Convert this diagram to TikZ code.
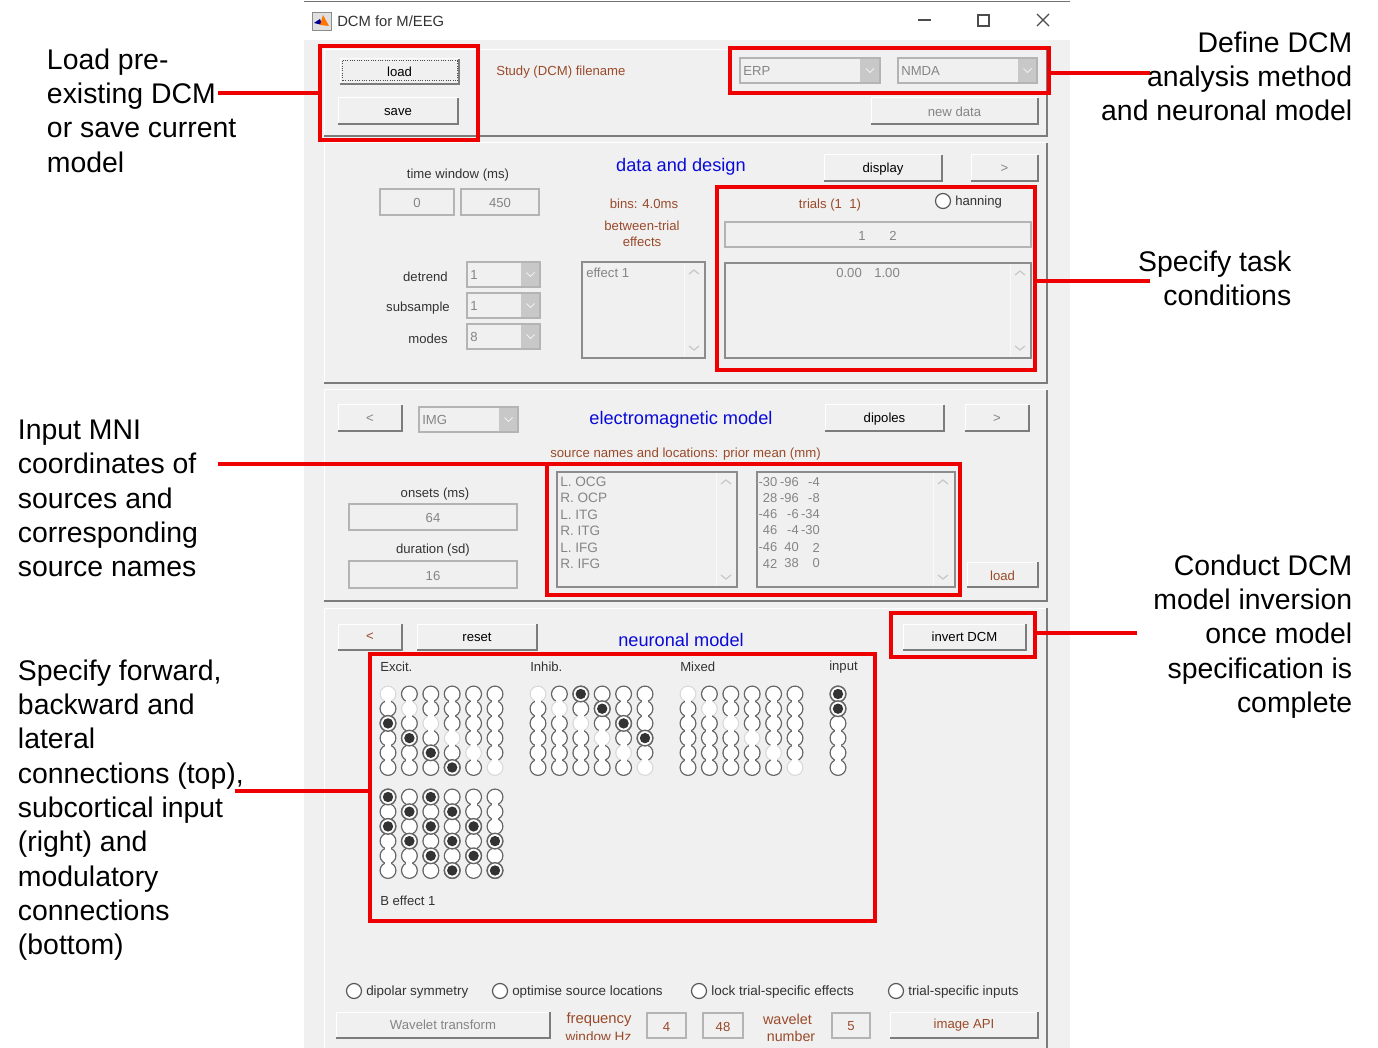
\documentclass[tikz,border=0pt]{standalone}
\usepackage{fontspec}
\setmainfont{Liberation Sans}
\usetikzlibrary{calc}
\definecolor{uibg}{HTML}{F0F0F0}
\definecolor{uidark}{HTML}{333333}
\definecolor{uigray}{HTML}{858585}
\definecolor{uibrown}{HTML}{9A4A2A}
\definecolor{uiblue}{HTML}{0A0AD8}
\definecolor{uiedge}{HTML}{7C7C7C}
\definecolor{uibox}{HTML}{B4B4B4}
\definecolor{uilistedge}{HTML}{8C8C8C}
\definecolor{uiarrow}{HTML}{C8C8C8}
\definecolor{calloutred}{HTML}{EE0000}
\tikzset{
  px/.style={line width=#1*0.75pt},
  ui/.style={inner sep=0pt,yshift=-0.75pt,font=\fontsize{9.85}{11.6}\selectfont,text=uidark},
  uiwide/.style={ui,font=\fontsize{10.05}{11.6}\selectfont},
  uititle/.style={inner sep=0pt,yshift=-0.75pt,font=\fontsize{13.65}{16}\selectfont,text=uiblue},
  callout/.style={inner sep=0pt,font=\fontsize{21.3}{25.75}\selectfont,text=black},
  redbox/.style={draw=calloutred,px=4,fill=none},
  redline/.style={draw=calloutred,px=4},
  edgedark/.style={draw=uiedge,px=1.6},
  edgelight/.style={draw=white,px=1},
  chev/.style={draw=uiarrow,px=1.2},
  raised/.style={every node/.append style={yshift=0.75pt}},
}
\newcommand\uipanel[4]{%
  \draw[edgelight] (#1,#4)--(#1,#2)--(#3,#2);
  \draw[edgedark] (#1,#4)--(#3,#4)--(#3,#2);}
\newcommand\uibtn[7]{%
  \fill[uibg] (#2,#3) rectangle (#4,#5);
  \draw[edgelight] (#2,#5)--(#2,#3)--(#4,#3);
  \draw[edgedark] (#2,#5)--(#4,#5)--(#4,#3);
  \node[ui,text=#7] (#1) at ($(#2,#3)!.5!(#4,#5)$) {#6};}
\newcommand\uipopup[7]{%
  \fill[uibg] (#2,#3) rectangle (#4,#5);
  \fill[uiarrow] (#6,#3) rectangle (#4,#5);
  \draw[uibox,px=1.2] (#2,#3) rectangle (#4,#5);
  \draw[draw=uibg,px=1] ({(#6+#4)/2-4},{(#3+#5)/2-2})--({(#6+#4)/2},{(#3+#5)/2+2})--({(#6+#4)/2+4},{(#3+#5)/2-2});
  \node[ui,yshift=0.75pt,text=uigray,anchor=west] (#1) at (#2+3,{(#3+#5)/2}) {#7};}
\newcommand\uiedit[7]{%
  \fill[uibg] (#2,#3) rectangle (#4,#5);
  \draw[uibox,px=1.1] (#2,#3) rectangle (#4,#5);
  \node[ui,text=#7] (#1) at ($(#2,#3)!.5!(#4,#5)$) {#6};}
\newcommand\uilist[5]{%
  \fill[uibg] (#1,#2) rectangle (#3,#4);
  \draw[draw=white!60!uibg,px=1] (#5-10,#2)--(#5-10,#4);
  \draw[uilistedge,px=1.1] (#1,#2) rectangle (#3,#4);
  \draw[chev] (#5-5,#2+12)--(#5,#2+8)--(#5+5,#2+12);
  \draw[chev] (#5-5,#4-12)--(#5,#4-8)--(#5+5,#4-12);}
\newcommand\uiradio[2]{%
  \draw[black!65,px=1.2,fill=white] (#1,#2) circle[radius=7.5];}
% grid: x0, y0, diagonal light (1/0), selected list of r/c, last column
\newcommand\rgrid[5]{%
  \foreach \r in {0,...,5}{\foreach \c in {0,...,#5}{%
    \ifnum#3=1 \ifnum\r=\c
      \draw[draw=black!15,px=1.2] ({#1+21.4*\c},{#2+14.7*\r}) circle[radius=7.8];
    \else
      \draw[draw=black!60,px=1.4] ({#1+21.4*\c},{#2+14.7*\r}) circle[radius=7.8];
    \fi\else
      \draw[draw=black!60,px=1.4] ({#1+21.4*\c},{#2+14.7*\r}) circle[radius=7.8];
    \fi}}
  \foreach \r in {0,...,5}{\foreach \c in {0,...,#5}{%
    \fill[white] ({#1+21.4*\c},{#2+14.7*\r}) circle[radius=7.1];}}
  \foreach \r in {0,...,4}{\foreach \c in {0,...,#5}{%
    \fill[white] ({#1+21.4*\c-3.0},{#2+14.7*\r+5.6}) rectangle ({#1+21.4*\c+3.0},{#2+14.7*\r+9.1});}}
  \foreach \r/\c in {#4}{%
    \draw[draw=black!60,px=1.4,fill=white] ({#1+21.4*\c},{#2+14.7*\r}) circle[radius=7.8];
    \fill[uidark] ({#1+21.4*\c},{#2+14.7*\r}) circle[radius=5.2];}}
\begin{document}
\begin{tikzpicture}[x=0.75pt,y=-0.75pt]
\useasboundingbox (0,0) rectangle (1378,1048);
\fill[white] (0,0) rectangle (1378,1048);
% window
\fill[uibg] (304,40) rectangle (1070,1048);
\draw[draw=black!55,px=1.4] (304,1.5)--(1070,1.5);
% icon
\fill[black!12] (312,12) rectangle (331,30);
\draw[black!45,px=.8] (312,12) rectangle (331,30);
\fill[blue!60!black] (314,23)--(320,19)--(322,25)--cycle;
\fill[orange!90!red] (320,25)--(323,15)--(329,26)--cycle;
\node[inner sep=0pt,anchor=west,font=\fontsize{11.1}{13}\selectfont,text=uidark] (wintitle) at (337,21) {DCM for M/EEG};
\draw[draw=black!70,px=1.2] (918,20)--(931,20);
\draw[draw=black!70,px=1.2] (978,15) rectangle (989,26);
\draw[draw=black!70,px=1.2] (1037,14)--(1049,26) (1049,14)--(1037,26);
% panels
\uipanel{324}{50}{1047}{136}
\uipanel{324}{143}{1047}{383}
\uipanel{324}{390}{1047}{601}
\draw[edgelight] (324,1048)--(324,608)--(1047,608);
\draw[edgedark] (1047,608)--(1047,1048);
% top panel
\begin{scope}[raised]
\uibtn{loadbtn}{340}{59}{459}{84}{load}{black}
\end{scope}
\draw[draw=black!70,px=1,densely dotted] (342,61) rectangle (457,81);
\uibtn{savebtn}{338}{98}{458}{124}{save}{black}
\node[ui,text=uibrown,anchor=west] (study) at (496,71.5) {Study (DCM) filename};
\uipopup{erp}{740}{58}{880}{83}{860}{ERP}
\uipopup{nmda}{898}{58}{1037}{83}{1018}{NMDA}
\uibtn{newdata}{871}{98}{1038}{124}{new data}{uigray}
% data and design
\begin{scope}
\clip (600,150) rectangle (760,174.5);
\node[uititle] (datadesign) at (681,165.5) {data and design};
\end{scope}
\uibtn{display}{824}{155}{942}{181}{display}{black}
\uibtn{nextone}{971}{155}{1038}{181}{>}{uigray}
\node[ui] (timewin) at (458,174) {time window (ms)};
\uiedit{tzero}{380}{189}{454}{215}{0}{uigray}
\uiedit{tfour}{461}{189}{539}{215}{450}{uigray}
\node[ui,text=uibrown] (bins) at (644,202.5) {bins: 4.0ms};
\node[ui,text=uibrown,align=center] (between) at (642,232.8) {between-trial\\[0.6pt]effects};
\node[ui,text=uibrown] (trials) at (830,204) {trials (1\ \ 1)};
\uiradio{943}{201}
\node[ui,anchor=west] (hanning) at (955,201) {hanning};
\uiedit{trialedit}{725}{222}{1031}{247}{}{uigray}
\node[ui,text=uigray] (tone) at (862,234.5) {1};
\node[ui,text=uigray] (ttwo) at (893,234.5) {2};
\uilist{725}{263}{1031}{358}{1020}
\node[ui,text=uigray,anchor=west] (czero) at (836,272) {0.00};
\node[ui,text=uigray,anchor=west] (cone) at (874,272) {1.00};
\node[ui,anchor=east] (detrend) at (448,276.2) {detrend};
\uipopup{pdetrend}{467}{262}{540}{287}{521}{1}
\node[ui,anchor=east] (subsample) at (450,307.5) {subsample};
\uipopup{psub}{467}{293}{540}{318}{521}{1}
\node[ui,anchor=east] (modes) at (448,338.3) {modes};
\uipopup{pmodes}{467}{324}{540}{349}{521}{8}
\uilist{582}{262}{705}{358}{694}
\node[ui,text=uigray,anchor=west] (effectone) at (586,272) {effect 1};
% electromagnetic model
\uibtn{backone}{338}{405}{402}{431}{<}{uigray}
\uipopup{img}{419}{407}{518}{432}{499}{IMG}
\node[uititle] (emtitle) at (681,418.5) {electromagnetic model};
\uibtn{dipoles}{825}{405}{944}{431}{dipoles}{black}
\uibtn{nexttwo}{965}{405}{1029}{431}{>}{uigray}
\node[ui,font=\fontsize{9.9}{11.6}\selectfont,text=uibrown] (srcnames) at (685.5,453) {source names and locations: prior mean (mm)};
\node[ui] (onsets) at (435,493.2) {onsets (ms)};
\uiedit{onsetedit}{349}{504}{517}{530}{64}{uigray}
\node[ui] (duration) at (433,549.2) {duration (sd)};
\uiedit{durationedit}{349}{561}{517}{588}{16}{uigray}
\uilist{557}{472}{737}{587}{726}
\uilist{757}{472}{955}{587}{943}
\foreach \t/\y in {L. OCG/481,R. OCP/497,L. ITG/513.5,R. ITG/529.5,L. IFG/546.5,R. IFG/562.5}
  \node[ui,text=uigray,anchor=west,font=\fontsize{10.2}{12}\selectfont] (src\y) at (560,\y) {\t};
\foreach \a/\b/\d/\y in {-30/-96/-4/481,28/-96/-8/497,-46/-6/-34/513.5,46/-4/-30/529.5,-46/40/2/546.5,42/38/0/562.5}{
  \node[ui,text=uigray,anchor=east,font=\fontsize{9.7}{12}\selectfont] (cola\y) at (777.5,\y) {\a};
  \node[ui,text=uigray,anchor=east,font=\fontsize{9.7}{12}\selectfont] (colb\y) at (799,\y) {\b};
  \node[ui,text=uigray,anchor=east,font=\fontsize{9.7}{12}\selectfont] (colc\y) at (820,\y) {\d};
}
\uibtn{srcload}{967}{562}{1038}{587}{load}{uibrown}
% neuronal model
\begin{scope}[raised]
\uibtn{backtwo}{338}{624}{402}{650}{<}{uibrown}
\uibtn{reset}{417}{624}{537}{650}{reset}{black}
\uibtn{invert}{903}{624}{1026}{650}{invert DCM}{black}
\end{scope}
\node[uititle] (nmtitle) at (681,638.5) {neuronal model};
\node[ui,anchor=west] (excit) at (380,666) {Excit.};
\node[ui,anchor=west] (inhib) at (530,666) {Inhib.};
\node[ui,anchor=west] (mixed) at (680,666) {Mixed};
\node[ui,anchor=west] (inputlbl) at (829,666) {input};
\rgrid{388}{694}{1}{2/0,3/1,4/2,5/3}{5}
\rgrid{538}{694}{1}{0/2,1/3,2/4,3/5}{5}
\rgrid{688}{694}{1}{}{5}
\rgrid{838}{694}{0}{0/0,1/0}{0}
\rgrid{388}{797}{0}{0/0,2/0,1/1,3/1,0/2,2/2,4/2,1/3,3/3,5/3,2/4,4/4,3/5,5/5}{5}
\node[ui,anchor=west] (beffect) at (380,900) {B effect 1};
% bottom options
\uiradio{354}{991}
\node[uiwide,anchor=west] (dipolar) at (366,991) {dipolar symmetry};
\uiradio{500}{991}
\node[uiwide,anchor=west] (optimise) at (512,991) {optimise source locations};
\uiradio{699}{991}
\node[uiwide,anchor=west,font=\fontsize{10.15}{12}\selectfont] (lock) at (711,991) {lock trial-specific effects};
\uiradio{896}{991}
\node[uiwide,anchor=west] (trialinputs) at (908,991) {trial-specific inputs};
\begin{scope}[raised]
\uibtn{wavelet}{336}{1012}{550}{1038}{Wavelet transform}{uigray}
\uibtn{imageapi}{890}{1012}{1038}{1038}{image API}{uibrown}
\end{scope}
\node[ui,text=uibrown,font=\fontsize{11.1}{13}\selectfont] (freq) at (599,1018.5) {frequency};
\begin{scope}
\clip (555,1026) rectangle (645,1039.5);
\node[ui,text=uibrown,font=\fontsize{10.2}{13}\selectfont] (window) at (598.5,1036) {window Hz};
\end{scope}
\uiedit{ffour}{647}{1013}{686}{1038}{4}{uibrown}
\uiedit{ffortyeight}{703}{1013}{743}{1038}{48}{uibrown}
\node[ui,text=uibrown,font=\fontsize{10.8}{13}\selectfont] (waveletw) at (787.5,1018.5) {wavelet};
\node[ui,text=uibrown,font=\fontsize{10.7}{13}\selectfont] (numberw) at (791,1035.5) {number};
\uiedit{wfive}{832}{1013}{870}{1038}{5}{uibrown}
% red boxes
\node[redbox,inner sep=0pt,minimum width=158*0.75pt,minimum height=94*0.75pt] (rload) at (399,93) {};
\node[redbox,inner sep=0pt,minimum width=319*0.75pt,minimum height=45*0.75pt] (rmethod) at (889.5,70.5) {};
\node[redbox,inner sep=0pt,minimum width=318*0.75pt,minimum height=183*0.75pt] (rtrials) at (876,278.5) {};
\node[redbox,inner sep=0pt,minimum width=413*0.75pt,minimum height=131*0.75pt] (rsources) at (753.5,529.5) {};
\node[redbox,inner sep=0pt,minimum width=144*0.75pt,minimum height=44*0.75pt] (rinvert) at (963,635) {};
\node[redbox,inner sep=0pt,minimum width=505*0.75pt,minimum height=267*0.75pt] (rneuron) at (622.5,787.5) {};
% callouts
\node[callout,anchor=west,align=left] (tload) at (46.7,110.5) {Load pre-\\existing DCM\\or save current\\model};
\node[callout,anchor=east,align=right] (tdefine) at (1352.5,76.5) {Define DCM\\analysis method\\and neuronal model};
\node[callout,anchor=east,align=right] (ttask) at (1291.5,278.5) {Specify task\\conditions};
\node[callout,anchor=west,align=left] (tinput) at (17.7,498.5) {Input MNI\\coordinates of\\sources and\\corresponding\\source names};
\node[callout,anchor=west,align=left] (tforward) at (17.7,810) {Specify forward,\\backward and\\lateral\\connections (top),\\subcortical input\\(right) and\\modulatory\\connections\\(bottom)};
\node[callout,anchor=east,align=right] (tconduct) at (1352.5,636.5) {Conduct DCM\\model inversion\\once model\\specification is\\complete};
% connectors
\coordinate (eload) at (218,93);
\coordinate (emethod) at (1150,73);
\coordinate (etask) at (1150,281);
\coordinate (einput) at (218,464);
\coordinate (econduct) at (1137,633);
\coordinate (eforward) at (235,791);
\draw[redline] (eload) -- (eload -| rload.west);
\draw[redline] (emethod) -- (emethod -| rmethod.east);
\draw[redline] (etask) -- (etask -| rtrials.east);
\draw[redline] (einput) -- (einput -| rsources.west);
\draw[redline] (econduct) -- (econduct -| rinvert.east);
\draw[redline] (eforward) -- (eforward -| rneuron.west);
\end{tikzpicture}
\end{document}
